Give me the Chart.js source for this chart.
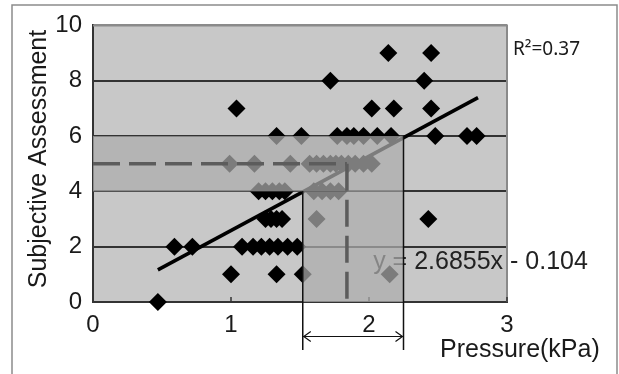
<!DOCTYPE html>
<html>
<head>
<meta charset="utf-8">
<script src="https://cdn.jsdelivr.net/npm/chart.js@4.4.0/dist/chart.umd.min.js"></script>
<style>
  html, body { margin: 0; padding: 0; background: #fff; }
</style>
</head>
<body>
<canvas id="myChart" width="619" height="374"></canvas>
<script>
// measured points: pressure (kPa) vs subjective assessment score
const pressure = [
  0.47,
  1.00, 1.33, 1.52, 2.15,
  0.59, 0.72, 1.08, 1.16, 1.22, 1.28, 1.34, 1.41, 1.48,
  1.25, 1.29, 1.33, 1.37, 1.62, 2.43,
  1.20, 1.25, 1.30, 1.35, 1.39, 1.60, 1.66, 1.72, 1.78,
  0.99, 1.17, 1.43, 1.57, 1.62, 1.67, 1.72, 1.76, 1.80, 1.85, 1.90, 1.96, 2.02,
  1.33, 1.51, 1.77, 1.84, 1.89, 1.96, 2.06, 2.16, 2.48, 2.71, 2.78,
  1.04, 2.02, 2.18, 2.45,
  1.72, 2.40,
  2.14, 2.45,
];
const assessment = [
  0,
  1, 1, 1, 1,
  2, 2, 2, 2, 2, 2, 2, 2, 2,
  3, 3, 3, 3, 3, 3,
  4, 4, 4, 4, 4, 4, 4, 4, 4,
  5, 5, 5, 5, 5, 5, 5, 5, 5, 5, 5, 5, 5,
  6, 6, 6, 6, 6, 6, 6, 6, 6, 6, 6,
  7, 7, 7, 7,
  8, 8,
  9, 9,
];

// fitted line as drawn (ends at the smallest and largest pressure)
const trendX = [0.47, 2.79];
const trendY = [1.16, 7.39];

// highlighted ranges
const bandScore = [4, 6];
const bandPressure = [1.52, 2.25];
const midScore = 5;
const midPressure = 1.84;

const equationText = 'y = 2.6855x - 0.104';
const r2Text = 'R\u00B2=0.37';
const xTitle = 'Pressure(kPa)';
const yTitle = 'Subjective Assessment';

Chart.defaults.font.family = '"Liberation Sans", Arial, sans-serif';
Chart.defaults.color = '#1a1a1a';

const extras = {
  id: 'extras',
  beforeDraw(chart) {
    const { ctx, chartArea: a } = chart;
    ctx.save();
    ctx.fillStyle = '#c8c8c8';
    ctx.fillRect(a.left, a.top, a.right - a.left, a.bottom - a.top);
    ctx.restore();
  },
  afterDatasetsDraw(chart) {
    const { ctx, chartArea: a } = chart;
    const x = chart.scales.x;
    const y = chart.scales.y;
    ctx.save();

    // right and top frame of the plot
    ctx.strokeStyle = '#8a8a8a';
    ctx.lineWidth = 2;
    ctx.beginPath();
    ctx.moveTo(a.left, a.top);
    ctx.lineTo(a.right, a.top);
    ctx.lineTo(a.right, a.bottom);
    ctx.stroke();

    // small inner ticks on the x axis
    ctx.strokeStyle = '#333';
    ctx.lineWidth = 1.5;
    [1, 2, 3].forEach((v) => {
      const px = x.getPixelForValue(v);
      ctx.beginPath();
      ctx.moveTo(px, a.bottom);
      ctx.lineTo(px, a.bottom - 5);
      ctx.stroke();
    });

    // equation
    ctx.fillStyle = '#222';
    ctx.font = '25px "Liberation Sans", Arial, sans-serif';
    ctx.textAlign = 'left';
    ctx.textBaseline = 'alphabetic';
    ctx.fillText(equationText, x.getPixelForValue(2.03), y.getPixelForValue(1.19));

    // translucent highlight over the 4-6 band
    const x0 = x.getPixelForValue(0);
    const xl = x.getPixelForValue(bandPressure[0]);
    const xr = x.getPixelForValue(bandPressure[1]);
    const y4 = y.getPixelForValue(bandScore[0]);
    const y6 = y.getPixelForValue(bandScore[1]);
    const yb = y.getPixelForValue(0);
    ctx.fillStyle = 'rgba(172,172,172,0.72)';
    ctx.fillRect(x0, y6, xr - x0, y4 - y6);
    ctx.fillRect(xl, y4, xr - xl, yb - y4);

    // dashed guide at the midpoint
    const ym = y.getPixelForValue(midScore);
    const xm = x.getPixelForValue(midPressure);
    ctx.strokeStyle = '#5c5c5c';
    ctx.lineWidth = 3.5;
    ctx.setLineDash([27, 9]);
    ctx.beginPath();
    ctx.moveTo(x0, ym);
    ctx.lineTo(xm, ym);
    ctx.moveTo(xm, ym);
    ctx.lineTo(xm, yb);
    ctx.stroke();
    ctx.setLineDash([]);

    // range markers below the axis
    const yEnd = 350;
    const yArrow = 336.5;
    ctx.strokeStyle = '#111';
    ctx.lineWidth = 1.5;
    ctx.beginPath();
    ctx.moveTo(xl, y4);
    ctx.lineTo(xl, yEnd);
    ctx.moveTo(xr, y6);
    ctx.lineTo(xr, yEnd);
    ctx.stroke();
    ctx.lineWidth = 1.2;
    ctx.beginPath();
    ctx.moveTo(xl, yArrow);
    ctx.lineTo(xr, yArrow);
    ctx.moveTo(xl + 8, yArrow - 5);
    ctx.lineTo(xl + 1, yArrow);
    ctx.lineTo(xl + 8, yArrow + 5);
    ctx.moveTo(xr - 8, yArrow - 5);
    ctx.lineTo(xr - 1, yArrow);
    ctx.lineTo(xr - 8, yArrow + 5);
    ctx.stroke();

    // texts
    ctx.fillStyle = '#1a1a1a';
    ctx.font = '19px "Noto Sans", sans-serif';
    ctx.fillText(r2Text, 513, 55);

    ctx.font = '25px "Liberation Sans", Arial, sans-serif';
    ctx.fillText(xTitle, 440, 357);

    ctx.translate(39, 159);
    ctx.rotate(-Math.PI / 2);
    ctx.textAlign = 'center';
    ctx.textBaseline = 'middle';
    ctx.font = '25px "Liberation Sans", Arial, sans-serif';
    ctx.fillText(yTitle, 0, 0);
    ctx.setTransform(1, 0, 0, 1, 0, 0);

    // outer picture frame
    ctx.strokeStyle = '#8c8c8c';
    ctx.lineWidth = 1.5;
    ctx.beginPath();
    ctx.moveTo(12, 374);
    ctx.lineTo(12, 5);
    ctx.lineTo(617, 5);
    ctx.lineTo(617, 374);
    ctx.stroke();

    ctx.restore();
  },
};

const ctx = document.getElementById('myChart').getContext('2d');

const chart = new Chart(ctx, {
  type: 'scatter',
  data: {
    datasets: [
      {
        type: 'line',
        data: trendX.map((v, i) => ({ x: v, y: trendY[i] })),
        borderColor: '#000',
        borderWidth: 3.5,
        pointRadius: 0,
        fill: false,
        order: 1,
      },
      {
        data: pressure.map((v, i) => ({ x: v, y: assessment[i] })),
        pointStyle: 'rectRot',
        pointRadius: 9,
        backgroundColor: '#000',
        borderWidth: 0,
        clip: false,
        order: 2,
      },
    ],
  },
  options: {
    responsive: false,
    animation: false,
    devicePixelRatio: 1,
    layout: {
      padding: { left: 0, right: 112, top: 25, bottom: 0 },
    },
    plugins: {
      legend: { display: false },
      tooltip: { enabled: false },
    },
    scales: {
      x: {
        type: 'linear',
        min: 0,
        max: 3,
        ticks: {
          stepSize: 1,
          font: { size: 24 },
          color: '#1a1a1a',
          padding: 9,
        },
        grid: { display: true, color: 'transparent', drawTicks: false },
        border: { display: true, color: '#333', width: 2 },
        afterFit: (scale) => { scale.height = 72; },
      },
      y: {
        min: 0,
        max: 10,
        ticks: {
          stepSize: 2,
          font: { size: 24 },
          color: '#1a1a1a',
          padding: 11,
        },
        grid: {
          color: (c) => (c.tick && c.tick.value === 10 ? '#8a8a8a' : '#333'),
          lineWidth: 2,
          drawTicks: false,
        },
        border: { display: true, color: '#333', width: 2 },
        afterFit: (scale) => { scale.width = 93; },
      },
    },
  },
  plugins: [extras],
});
</script>
</body>
</html>
